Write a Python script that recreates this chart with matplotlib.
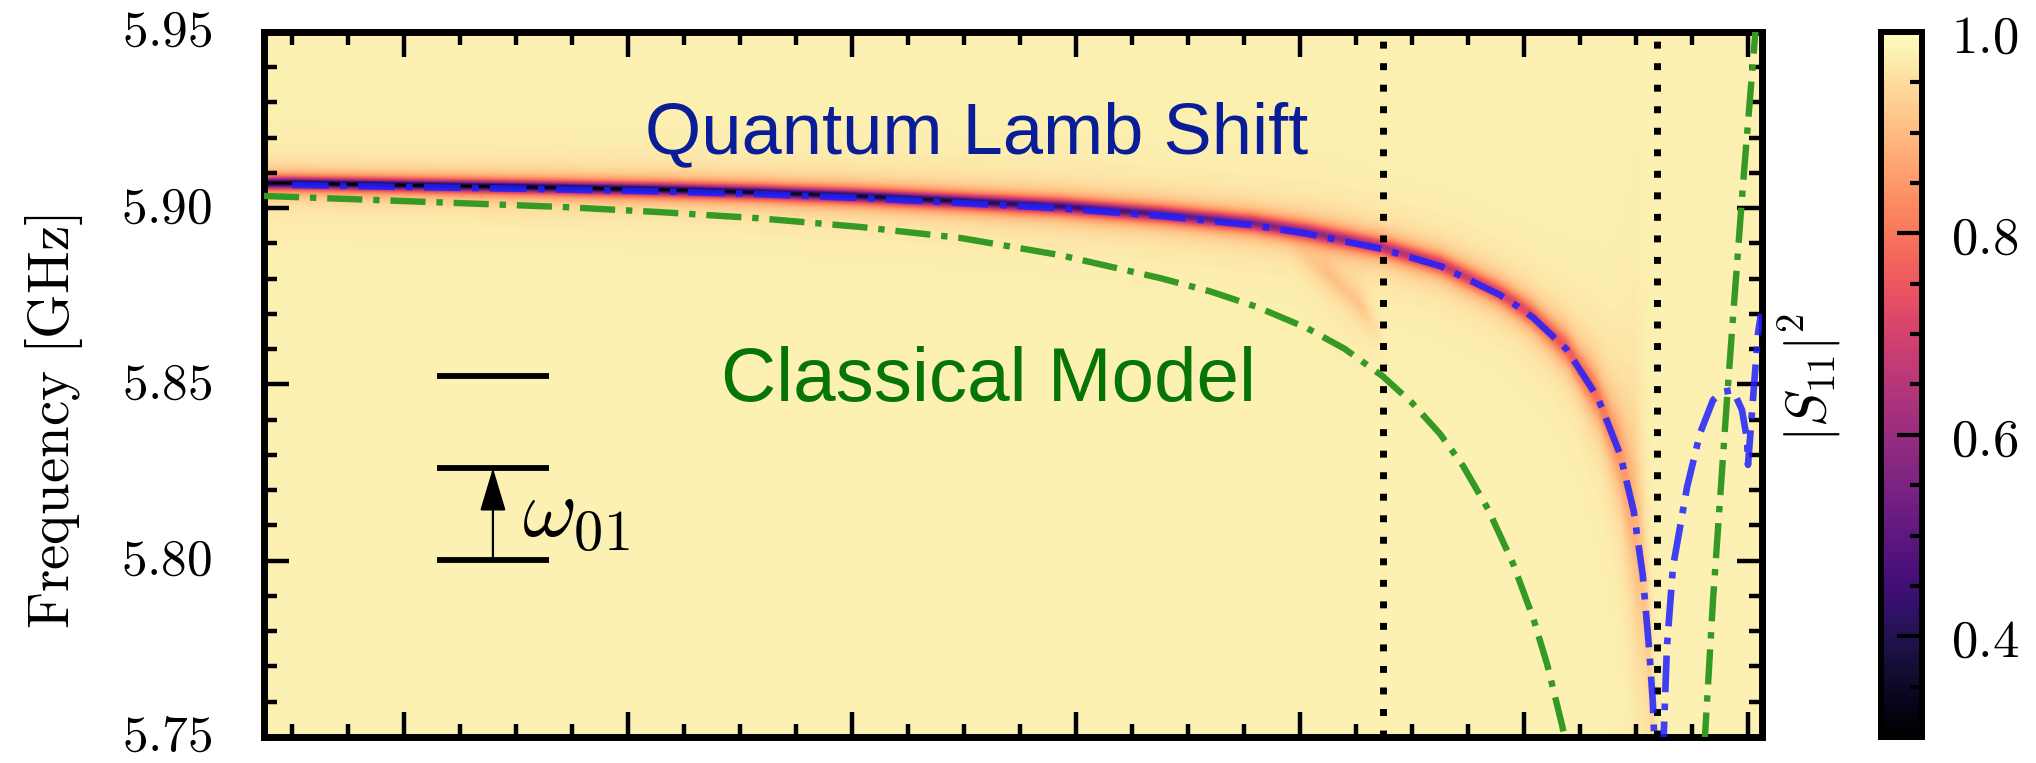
import matplotlib
matplotlib.use('Agg')

import matplotlib.pyplot as plt
from matplotlib.ticker import MultipleLocator, FormatStrFormatter
import numpy as np

plt.rcParams['mathtext.fontset'] = 'cm'

# flux axis (arb. units) and frequency window
xlim = (-0.625, 6.0625)
ylim = (5.75, 5.95)

# quantum model (Lamb shifted), branch below and above the second marker
quantum_x = [-0.50, -0.05, 0.55, 1.14, 1.59, 2.04, 2.48, 2.93, 3.38, 3.79, 4.03,
             4.37, 4.63, 4.89, 4.97, 5.04, 5.19, 5.33, 5.43, 5.49, 5.53, 5.56,
             5.575, 5.585]
quantum_y = [5.9066, 5.9061, 5.9055, 5.9048, 5.9040, 5.9029, 5.9015, 5.9000, 5.8978,
             5.8952, 5.8928, 5.8884, 5.8835, 5.8755, 5.8722, 5.8690, 5.8600, 5.8462,
             5.8300, 5.8140, 5.7960, 5.7740, 5.7600, 5.7440]
quantum2_x = [5.620, 5.638, 5.665, 5.728, 5.786, 5.844, 5.884, 5.933, 5.973, 5.996,
              6.000, 6.022, 6.045, 6.058]
quantum2_y = [5.7440, 5.7755, 5.7982, 5.8209, 5.8362, 5.8456, 5.8479, 5.8484, 5.8428,
              5.8343, 5.8272, 5.8456, 5.8646, 5.8700]

# classical model
classical_x = [-0.625, 0.103, 0.696, 1.143, 1.576, 2.036, 2.482, 2.929, 3.375, 3.600,
               3.808, 4.031, 4.200, 4.370, 4.500, 4.625, 4.728, 4.839, 4.951, 5.040,
               5.103, 5.170, 5.185]
classical_y = [5.9035, 5.9018, 5.9004, 5.8989, 5.8972, 5.8947, 5.8916, 5.8867, 5.8802,
               5.8764, 5.8720, 5.8660, 5.8601, 5.8523, 5.8448, 5.8360, 5.8269, 5.8147,
               5.7992, 5.7839, 5.7707, 5.7533, 5.7488]
classical2_x = [5.805, 5.844, 5.875, 5.906, 5.933, 5.978, 6.033, 6.038]
classical2_y = [5.7470, 5.7890, 5.8172, 5.8456, 5.8690, 5.9070, 5.9500, 5.9540]

markers_x = [4.37, 5.594]

# measured |S11|^2: resonance dip along the quantum branch
background = 0.982
band_x = [-0.625, 1.0, 2.5, 3.5, 4.37, 4.9, 5.3, 5.45, 5.55, 5.62]
band_depth = [0.68, 0.67, 0.61, 0.48, 0.35, 0.28, 0.21, 0.13, 0.06, 0.0]
band_width = [0.0013, 0.0014, 0.0016, 0.0019, 0.0023, 0.0025, 0.0027, 0.0029, 0.0030, 0.0030]
ghost_x = [3.95, 4.13, 4.27, 4.38]
ghost_y = [5.8896, 5.8811, 5.8726, 5.8626]
ghost_depth = [0.0, 0.06, 0.06, 0.0]

# two-level sketch
levels = [5.8002, 5.8263, 5.8524]
level_x = (0.147, 0.647)
arrow_x = 0.397

cbar_ticks = [0.4, 0.6, 0.8, 1.0]

# build the |S11|^2 map
xs = np.linspace(xlim[0], xlim[1], 1200)
ys = np.linspace(ylim[0], ylim[1], 900)
px_per_x = 1498 / (xlim[1] - xlim[0])
px_per_y = 705 / (ylim[1] - ylim[0])
center = np.interp(xs, quantum_x, quantum_y) + 0.0006
slope = np.gradient(center, xs) * px_per_y / px_per_x
slope = np.convolve(np.pad(slope, 15, mode='edge'), np.ones(31) / 31, mode='valid')
depth = np.interp(xs, band_x, band_depth)
hw = np.interp(xs, band_x, band_width) * np.sqrt(1 + slope ** 2)
S = background - depth[None, :] / (1 + ((ys[:, None] - center[None, :]) / hw[None, :]) ** 2)
g_center = np.interp(xs, ghost_x, ghost_y)
g_depth = np.interp(xs, ghost_x, ghost_depth, left=0, right=0)
S = S - g_depth[None, :] / (1 + ((ys[:, None] - g_center[None, :]) / 0.004) ** 2)

fig = plt.figure(figsize=(20.36, 7.63), dpi=100)
ax = fig.add_axes([264 / 2036, 26 / 763, 1498 / 2036, 705 / 763])

im = ax.imshow(S, extent=(xlim[0], xlim[1], ylim[0], ylim[1]), origin='lower',
               aspect='auto', cmap='magma', vmin=0.3, vmax=1.0,
               interpolation='bilinear', zorder=0)

for xm in markers_x:
    ax.axvline(xm, color='k', lw=5, linestyle=(0, (1, 2.1)), zorder=2)

dashdot = (0, (5.5, 1.7, 1.0, 1.7))
ax.plot(classical_x, classical_y, color='#349a24', lw=4.6, linestyle=dashdot, zorder=3)
ax.plot(classical2_x, classical2_y, color='#349a24', lw=4.6, linestyle=dashdot, zorder=3)
ax.plot(quantum_x, quantum_y, color='#2020ff', alpha=0.85, lw=4.8, linestyle=dashdot, zorder=4)
ax.plot(quantum2_x, quantum2_y, color='#2020ff', alpha=0.85, lw=4.8, linestyle=dashdot, zorder=4)

ax.text(1.076, 5.9157, 'Quantum Lamb Shift', color='#0a1d99', fontsize=52,
        family=['Liberation Sans', 'DejaVu Sans'], ha='left', va='baseline', zorder=5)
ax.text(1.415, 5.8453, 'Classical Model', color='#067506', fontsize=55,
        family=['Liberation Sans', 'DejaVu Sans'], ha='left', va='baseline', zorder=5)

# energy levels with the 0->1 transition
ax.hlines(levels, level_x[0], level_x[1], color='k', lw=4.2, zorder=5)
ax.annotate('', xy=(arrow_x, levels[1]), xytext=(arrow_x, levels[0]),
            arrowprops=dict(arrowstyle='-|>,head_length=0.6,head_width=0.18',
                            color='k', lw=1.6, mutation_scale=45,
                            shrinkA=0, shrinkB=0), zorder=5)
ax.text(0.527, 5.8072, r'$\omega_{01}$', fontsize=60, ha='left', va='baseline', zorder=5)

ax.set_xlim(xlim)
ax.set_ylim(ylim)
ax.xaxis.set_major_locator(MultipleLocator(1))
ax.xaxis.set_minor_locator(MultipleLocator(0.25))
ax.yaxis.set_major_locator(MultipleLocator(0.05))
ax.yaxis.set_minor_locator(MultipleLocator(0.01))
ax.yaxis.set_major_formatter(FormatStrFormatter('$%.2f$'))
ax.tick_params(which='both', direction='in', top=True, right=True, bottom=True, left=True,
               labelbottom=False, width=3.2, labelsize=37, pad=37)
ax.tick_params(which='major', length=18)
ax.tick_params(which='minor', length=9.4)
plt.setp(ax.get_yticklabels(), va='center')
for s in ax.spines.values():
    s.set_linewidth(5)
ax.set_ylabel(r'$\mathrm{Frequency\ [GHz]}$', fontsize=41)
ax.yaxis.set_label_coords(-0.1195, 0.447)

cax = fig.add_axes([1881 / 2036, 26 / 763, 41 / 2036, 705 / 763])
cb = fig.colorbar(im, cax=cax, ticks=cbar_ticks)
cb.outline.set_linewidth(4.3)
cax.yaxis.set_minor_locator(MultipleLocator(0.05))
cax.yaxis.set_major_formatter(FormatStrFormatter('$%.1f$'))
cax.tick_params(which='both', direction='in', right=True, left=False, width=3,
                labelsize=38, pad=21)
cax.tick_params(which='major', length=18)
cax.tick_params(which='minor', length=9)
cax.set_ylabel(r'$|S_{11}|^2$', fontsize=40)
cax.yaxis.set_label_position('left')
cax.yaxis.set_label_coords(-0.9, 0.51)

fig.savefig('out.png', dpi=100)
